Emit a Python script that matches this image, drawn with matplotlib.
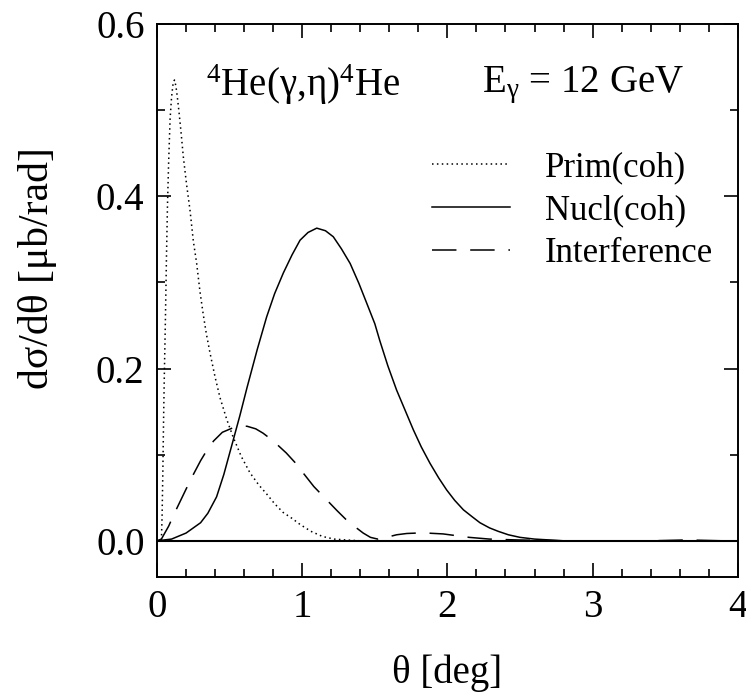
import matplotlib
matplotlib.use("Agg")
import matplotlib.pyplot as plt
from matplotlib.ticker import MultipleLocator

plt.rcParams['font.family'] = ['Liberation Serif', 'DejaVu Serif']
plt.rcParams['mathtext.fontset'] = 'custom'
plt.rcParams['mathtext.rm'] = 'Liberation Serif'
plt.rcParams['mathtext.it'] = 'Liberation Serif'
plt.rcParams['mathtext.default'] = 'regular'

# values
prim_x = [0, 0.02, 0.03, 0.035, 0.04, 0.045, 0.05, 0.058, 0.065, 0.072, 0.08, 0.09, 0.1,
          0.11, 0.12, 0.13, 0.14, 0.15, 0.165, 0.181, 0.204, 0.227, 0.25, 0.273, 0.296,
          0.319, 0.34, 0.365, 0.40, 0.434, 0.48, 0.523, 0.58, 0.64, 0.70, 0.757, 0.81,
          0.868, 0.93, 0.985, 1.06, 1.14, 1.22, 1.3, 1.4, 2.0, 3.0, 4.0]
prim_y = [0, 0.0, 0.0, 0.03, 0.08, 0.14, 0.19, 0.26, 0.33, 0.39, 0.44, 0.49, 0.515,
          0.53, 0.535, 0.528, 0.515, 0.50, 0.475, 0.446, 0.413, 0.384, 0.348, 0.322, 0.289,
          0.262, 0.24, 0.218, 0.19, 0.166, 0.141, 0.121, 0.098, 0.079, 0.065, 0.054, 0.043,
          0.033, 0.026, 0.019, 0.011, 0.005, 0.002, 0.001, 0, 0, 0, 0]

nucl_x = [0, 0.1, 0.2, 0.3, 0.35, 0.41, 0.46, 0.52, 0.57, 0.62, 0.69, 0.755, 0.81, 0.87,
          0.93, 0.985, 1.04, 1.10, 1.16, 1.214, 1.27, 1.33, 1.39, 1.444, 1.5, 1.535, 1.59,
          1.65, 1.71, 1.765, 1.82, 1.88, 1.94, 1.995, 2.05, 2.11, 2.17, 2.224, 2.29, 2.35,
          2.42, 2.5, 2.6, 2.7, 2.8, 4.0]
nucl_y = [0, 0.002, 0.009, 0.021, 0.032, 0.051, 0.077, 0.114, 0.145, 0.178, 0.222, 0.260,
          0.287, 0.311, 0.332, 0.349, 0.358, 0.363, 0.360, 0.353, 0.339, 0.322, 0.299, 0.276,
          0.252, 0.232, 0.203, 0.175, 0.151, 0.129, 0.109, 0.090, 0.073, 0.059, 0.047, 0.036,
          0.028, 0.021, 0.015, 0.011, 0.007, 0.004, 0.002, 0.001, 0, 0]

interf_x = [0, 0.03, 0.08, 0.12, 0.16, 0.2, 0.25, 0.3, 0.35, 0.39, 0.45, 0.52, 0.58, 0.62,
            0.68, 0.73, 0.8, 0.89, 0.95, 1.01, 1.08, 1.16, 1.24, 1.30, 1.35, 1.42, 1.47,
            1.52, 1.58, 1.65, 1.72, 1.79, 1.88, 1.97, 2.06, 2.15, 2.29, 2.48, 2.8, 3.4,
            3.65, 3.9, 4.0]
interf_y = [0, 0.002, 0.017, 0.032, 0.046, 0.06, 0.077, 0.093, 0.107, 0.116, 0.126, 0.131,
            0.133, 0.133, 0.130, 0.125, 0.116, 0.102, 0.091, 0.078, 0.063, 0.049, 0.035,
            0.025, 0.018, 0.009, 0.004, 0.002, 0.004, 0.007, 0.0085, 0.009, 0.0088, 0.008,
            0.006, 0.004, 0.002, 0.001, 0.0, 0.0, 0.001, 0.0, 0.0]

fig = plt.figure(figsize=(7.46, 6.96), dpi=100)
ax = fig.add_axes([0.2105, 0.171, 0.7785, 0.7945])

ax.plot(prim_x, prim_y, color='black', lw=1.1, ls=(0, (1, 2.2)), label='Prim(coh)')
ax.plot(nucl_x, nucl_y, color='black', lw=1.1, ls='-', label='Nucl(coh)')
ax.plot(interf_x, interf_y, color='black', lw=1.1, ls=(0, (16, 9)), label='Interference')
ax.axhline(0, color='black', lw=1.5)

ax.set_xlim(0, 4)
ax.set_ylim(-0.042, 0.6)
ax.xaxis.set_major_locator(MultipleLocator(1))
ax.xaxis.set_minor_locator(MultipleLocator(0.2))
ax.yaxis.set_major_locator(MultipleLocator(0.2))
ax.yaxis.set_minor_locator(MultipleLocator(0.1))
ax.yaxis.set_major_formatter(plt.FormatStrFormatter('%.1f'))
ax.tick_params(which='both', direction='in', top=True, right=True, width=1.2, labelsize=28)
ax.tick_params(which='major', length=10, pad=9)
ax.tick_params(which='minor', length=6)
for s in ax.spines.values():
    s.set_linewidth(1.4)

ax.set_xlabel('θ [deg]', fontsize=28, labelpad=20)
ax.set_ylabel('dσ/dθ [μb/rad]', fontsize=30)
ax.yaxis.set_label_coords(-0.172, 0.559)

ax.text(0.34, 0.529, '$^{4}$He(γ,η)$^{4}$He', fontsize=28, va='center', ha='left')
ax.text(2.24, 0.529, 'E$_{γ}$ = 12 GeV', fontsize=28, va='center', ha='left')

ax.legend(loc='upper left', bbox_to_anchor=(0.473, 0.77), frameon=False, fontsize=25,
          handlelength=2.25, handletextpad=1.0, labelspacing=0.29, borderaxespad=0,
          borderpad=0)

fig.savefig('out.png', dpi=100)
